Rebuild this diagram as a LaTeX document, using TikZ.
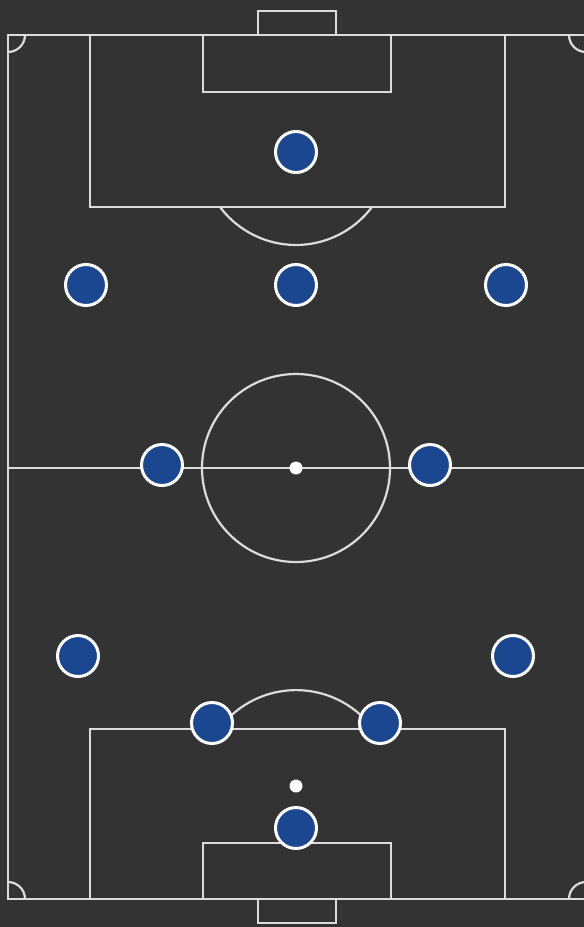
\documentclass[tikz,border=0pt]{standalone}
\usetikzlibrary{calc}
\definecolor{turf}{HTML}{333333}
\definecolor{chalk}{HTML}{DCDCDC}
\definecolor{kit}{HTML}{1B4690}

\begin{document}
\begin{tikzpicture}[
  x=1pt, y=-1pt,
  line/.style={draw=chalk, line width=2.2pt},
  player/.style={circle, draw=white, line width=3pt, fill=kit, minimum size=41pt, inner sep=0pt},
  spot/.style={circle, fill=white, minimum size=13pt, inner sep=0pt}
]

% Page size in pixels of the reference.
\def\xl{8}
\def\xr{586}
\def\yt{35}
\def\yb{899}
\def\ym{468}
\def\xc{296}

% Turf.
\fill[turf] (0,0) rectangle (584,927);
\useasboundingbox (0,0) rectangle (584,927);

% Touchlines, goal lines and halfway line (right touchline sits off the edge).
\begin{scope}
  \clip (0,0) rectangle (584,927);
  \draw[line] (\xl,\yt) rectangle (\xr,\yb);
  \draw[line] (\xl,\ym) -- (\xr,\ym);
  \draw[line] (\xr-17,\yt) arc[start angle=180, end angle=270, radius=17pt];
  \draw[line] (\xr,\yb-17) arc[start angle=90, end angle=180, radius=17pt];
\end{scope}
\draw[line] (\xc,\ym) circle[radius=94pt];

% Top end.
\draw[line] (90,\yt) rectangle (505,207);
\draw[line] (203,\yt) rectangle (391,92);
\draw[line] (258,\yt) rectangle (336,11);
\draw[line] (220,207) arc[start angle=216.9, end angle=323.1, radius=95pt];

% Bottom end.
\draw[line] (90,\yb) rectangle (505,729);
\draw[line] (203,\yb) rectangle (391,843);
\draw[line] (258,\yb) rectangle (336,923);
\draw[line] (219,729) arc[start angle=143.5, end angle=36.5, radius=96pt];

% Corner arcs on the left.
\draw[line] (\xl+17,\yt) arc[start angle=0, end angle=-90, radius=17pt];
\draw[line] (\xl,\yb-17) arc[start angle=90, end angle=0, radius=17pt];

% Spots.
\node[spot] (cspot) at (\xc,\ym) {};
\node[spot] (pspot) at (\xc,786) {};

% Players.
\foreach \pos [count=\i] in {{296,152},{86,285},{296,285},{506,285},
    {162,465},{430,465},{78,656},{513,656},{212,723},{380,723},{296,828}}
  \node[player] (p\i) at (\pos) {};

\end{tikzpicture}
\end{document}
